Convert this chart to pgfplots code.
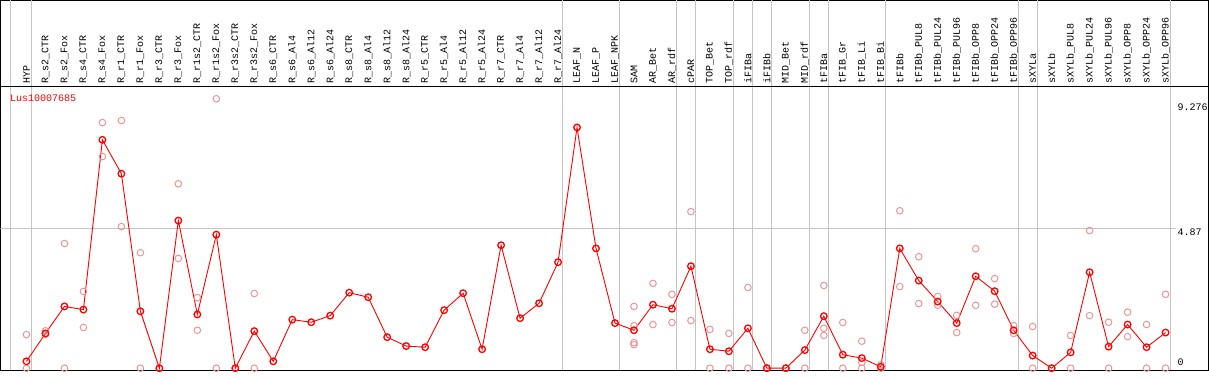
\documentclass[border=0pt]{standalone}
\usepackage{pgfplots}
\pgfplotsset{compat=1.18}
\usepackage{fontspec}
\setmonofont{Liberation Mono}
\definecolor{pinkrep}{RGB}{232,150,150}
\definecolor{sepgray}{RGB}{196,196,196}
\tikzset{lab/.style={rotate=90, anchor=west, inner sep=0pt, font=\ttfamily\fontsize{10}{10}\selectfont, text=black}}
\pgfplotstableread{
x y
0 0.24
1 1.21
2 2.15
3 2.04
4 7.95
5 6.77
6 1.98
7 0
8 5.14
9 1.87
10 4.65
11 0
12 1.29
13 0.24
14 1.69
15 1.60
16 1.83
17 2.63
18 2.47
19 1.08
20 0.77
21 0.73
22 2.02
23 2.61
24 0.66
25 4.28
26 1.74
27 2.26
28 3.69
29 8.38
30 4.17
31 1.57
32 1.32
33 2.21
34 2.07
35 3.55
36 0.66
37 0.59
38 1.39
39 0
40 0
41 0.63
42 1.81
43 0.47
44 0.35
45 0.05
46 4.17
47 3.05
48 2.32
49 1.57
50 3.20
51 2.68
52 1.32
53 0.44
54 0
55 0.55
56 3.34
57 0.75
58 1.52
59 0.73
60 1.24
}\maintab
\pgfplotstableread{
x y
0 1.17
0 0
1 1.30
1 1.18
2 4.34
2 0
3 2.67
3 1.42
4 8.55
4 7.37
5 8.62
5 4.93
6 4.02
6 0
7 0
8 6.42
8 3.82
9 2.46
9 1.32
10 9.38
10 0
11 0
12 2.60
12 0
32 2.15
32 1.48
32 0.89
32 0.82
33 2.95
33 1.52
34 2.57
34 1.59
35 5.45
35 1.66
36 1.35
36 0
37 1.21
37 0
38 2.81
38 0
39 0
40 0
41 1.32
41 0
42 2.88
42 1.39
42 1.14
43 1.59
43 0
44 0.94
44 0.20
44 0
45 0.12
45 0
46 5.48
46 2.84
47 3.88
47 2.25
48 2.50
48 2.19
49 1.84
49 1.24
50 4.16
50 2.19
51 3.12
51 2.23
52 1.48
52 1.21
53 1.45
53 0
54 0
55 1.14
55 0
56 4.79
56 1.83
57 1.60
57 0
58 1.95
58 1.10
59 1.52
59 0
60 2.57
60 0
}\reptab
\begin{document}
\begin{tikzpicture}
\begin{axis}[
  scale only axis, width=1209pt, height=370pt,
  xmin=-1.3684, xmax=62.263, ymin=-0.0696, ymax=12.8,
  xtick=\empty, ytick=\empty,
  axis line style={black, line width=1pt},
  clip=true,
  extra x ticks={-0.842,0.24,28.24,31.24,34.24,35.24,37.24,38.24,39.24,41.24,42.24,45.24,52.24,53.24,60.24},
  extra x tick labels={},
  extra x tick style={grid=major, major tick length=0pt, major grid style={color=sepgray, line width=1pt}},
]
\draw[sepgray, line width=1pt] (axis cs:-1.3684,4.87) -- (axis cs:60.56,4.87);
\draw[black, line width=1pt] (axis cs:-1.3684,9.809) -- (axis cs:62.263,9.809);
\addplot[only marks, mark=o, mark size=3.3pt, color=pinkrep, mark options={line width=1pt}] table[x=x,y=y] {\reptab};
\addplot[color=red, line width=0.9pt, mark=o, mark size=3.3pt, mark options={line width=1.3pt, color=red}] table[x=x,y=y] {\maintab};
\node[lab] at (axis cs:0,9.913) {HYP};
\node[lab] at (axis cs:1,9.913) {R\_s2\_CTR};
\node[lab] at (axis cs:2,9.913) {R\_s2\_Fox};
\node[lab] at (axis cs:3,9.913) {R\_s4\_CTR};
\node[lab] at (axis cs:4,9.913) {R\_s4\_Fox};
\node[lab] at (axis cs:5,9.913) {R\_r1\_CTR};
\node[lab] at (axis cs:6,9.913) {R\_r1\_Fox};
\node[lab] at (axis cs:7,9.913) {R\_r3\_CTR};
\node[lab] at (axis cs:8,9.913) {R\_r3\_Fox};
\node[lab] at (axis cs:9,9.913) {R\_r1s2\_CTR};
\node[lab] at (axis cs:10,9.913) {R\_r1s2\_Fox};
\node[lab] at (axis cs:11,9.913) {R\_r3s2\_CTR};
\node[lab] at (axis cs:12,9.913) {R\_r3s2\_Fox};
\node[lab] at (axis cs:13,9.913) {R\_s6\_CTR};
\node[lab] at (axis cs:14,9.913) {R\_s6\_Al4};
\node[lab] at (axis cs:15,9.913) {R\_s6\_Al12};
\node[lab] at (axis cs:16,9.913) {R\_s6\_Al24};
\node[lab] at (axis cs:17,9.913) {R\_s8\_CTR};
\node[lab] at (axis cs:18,9.913) {R\_s8\_Al4};
\node[lab] at (axis cs:19,9.913) {R\_s8\_Al12};
\node[lab] at (axis cs:20,9.913) {R\_s8\_Al24};
\node[lab] at (axis cs:21,9.913) {R\_r5\_CTR};
\node[lab] at (axis cs:22,9.913) {R\_r5\_Al4};
\node[lab] at (axis cs:23,9.913) {R\_r5\_Al12};
\node[lab] at (axis cs:24,9.913) {R\_r5\_Al24};
\node[lab] at (axis cs:25,9.913) {R\_r7\_CTR};
\node[lab] at (axis cs:26,9.913) {R\_r7\_Al4};
\node[lab] at (axis cs:27,9.913) {R\_r7\_Al12};
\node[lab] at (axis cs:28,9.913) {R\_r7\_Al24};
\node[lab] at (axis cs:29,9.913) {LEAF\_N};
\node[lab] at (axis cs:30,9.913) {LEAF\_P};
\node[lab] at (axis cs:31,9.913) {LEAF\_NPK};
\node[lab] at (axis cs:32,9.913) {SAM};
\node[lab] at (axis cs:33,9.913) {AR\_Bet};
\node[lab] at (axis cs:34,9.913) {AR\_rdf};
\node[lab] at (axis cs:35,9.913) {cPAR};
\node[lab] at (axis cs:36,9.913) {TOP\_Bet};
\node[lab] at (axis cs:37,9.913) {TOP\_rdf};
\node[lab] at (axis cs:38,9.913) {iFIBa};
\node[lab] at (axis cs:39,9.913) {iFIBb};
\node[lab] at (axis cs:40,9.913) {MID\_Bet};
\node[lab] at (axis cs:41,9.913) {MID\_rdf};
\node[lab] at (axis cs:42,9.913) {tFIBa};
\node[lab] at (axis cs:43,9.913) {tFIB\_Gr};
\node[lab] at (axis cs:44,9.913) {tFIB\_Li};
\node[lab] at (axis cs:45,9.913) {tFIB\_Bi};
\node[lab] at (axis cs:46,9.913) {tFIBb};
\node[lab] at (axis cs:47,9.913) {tFIBb\_PUL8};
\node[lab] at (axis cs:48,9.913) {tFIBb\_PUL24};
\node[lab] at (axis cs:49,9.913) {tFIBb\_PUL96};
\node[lab] at (axis cs:50,9.913) {tFIBb\_OPP8};
\node[lab] at (axis cs:51,9.913) {tFIBb\_OPP24};
\node[lab] at (axis cs:52,9.913) {tFIBb\_OPP96};
\node[lab] at (axis cs:53,9.913) {sXYLa};
\node[lab] at (axis cs:54,9.913) {sXYLb};
\node[lab] at (axis cs:55,9.913) {sXYLb\_PUL8};
\node[lab] at (axis cs:56,9.913) {sXYLb\_PUL24};
\node[lab] at (axis cs:57,9.913) {sXYLb\_PUL96};
\node[lab] at (axis cs:58,9.913) {sXYLb\_OPP8};
\node[lab] at (axis cs:59,9.913) {sXYLb\_OPP24};
\node[lab] at (axis cs:60,9.913) {sXYLb\_OPP96};
\node[anchor=west, inner sep=0pt, text=red, font=\ttfamily\fontsize{10}{10}\selectfont] at (axis cs:-0.868,9.409) {Lus10007685};
\node[anchor=west, inner sep=0pt, font=\ttfamily\fontsize{10}{10}\selectfont] at (axis cs:60.63,9.078) {9.276};
\node[anchor=west, inner sep=0pt, font=\ttfamily\fontsize{10}{10}\selectfont] at (axis cs:60.63,4.73) {4.87};
\node[anchor=west, inner sep=0pt, font=\ttfamily\fontsize{10}{10}\selectfont] at (axis cs:60.63,0.209) {0};
\end{axis}
\end{tikzpicture}
\end{document}
